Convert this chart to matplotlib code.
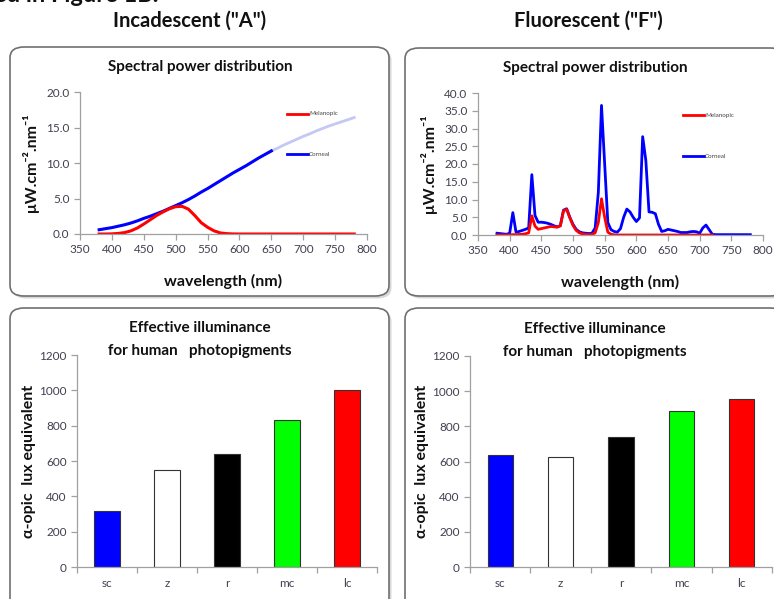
import matplotlib
matplotlib.use("Agg")
import matplotlib.pyplot as plt
from matplotlib.patches import FancyBboxPatch
import numpy as np

plt.rcParams['font.family'] = ['Lato', 'DejaVu Sans']

# ---------------- data ----------------
wl_A = [380, 390, 400, 410, 420, 430, 440, 450, 460, 470, 480, 490, 500, 510, 520,
        530, 540, 550, 560, 570, 580, 590, 600, 610, 620, 630, 640, 650, 660, 670,
        680, 690, 700, 710, 720, 730, 740, 750, 760, 770, 780]
corneal_A = [0.6, 0.75, 0.9, 1.1, 1.3, 1.55, 1.85, 2.2, 2.5, 2.85, 3.2, 3.6, 4.0, 4.4, 4.85,
             5.35, 5.9, 6.4, 6.95, 7.5, 8.05, 8.6, 9.1, 9.6, 10.15, 10.7, 11.2, 11.7, 12.1, 12.55,
             12.95, 13.35, 13.75, 14.1, 14.5, 14.85, 15.2, 15.5, 15.8, 16.1, 16.4]
melanopic_A = [0.0, 0.0, 0.02, 0.08, 0.2, 0.45, 0.85, 1.4, 2.0, 2.6, 3.1, 3.55, 3.85, 3.9, 3.5,
               2.6, 1.6, 0.95, 0.45, 0.15, 0.05, 0.01, 0.0, 0.0, 0.0, 0.0, 0.0, 0.0, 0.0, 0.0,
               0.0, 0.0, 0.0, 0.0, 0.0, 0.0, 0.0, 0.0, 0.0, 0.0, 0.0]

wl_F = [380, 385, 390, 395, 400, 405, 410, 415, 420, 425, 430, 435, 440, 445, 450, 455,
        460, 465, 470, 475, 480, 485, 490, 495, 500, 505, 510, 515, 520, 525, 530, 535,
        540, 545, 550, 555, 560, 565, 570, 575, 580, 585, 590, 595, 600, 605, 610, 615,
        620, 625, 630, 635, 640, 645, 650, 655, 660, 665, 670, 675, 680, 685, 690, 695,
        700, 705, 710, 715, 720, 725, 730, 740, 750, 760, 770, 780]
corneal_F = [0.5, 0.4, 0.3, 0.2, 0.5, 6.3, 0.8, 1.0, 1.3, 1.6, 2.0, 17.0, 5.5, 3.6, 3.6, 3.5,
             3.3, 3.0, 2.6, 2.3, 2.6, 7.0, 7.4, 5.0, 3.0, 1.6, 0.9, 0.6, 0.5, 0.4, 0.5, 2.0,
             12.0, 36.5, 20.0, 3.5, 1.5, 1.0, 0.8, 1.8, 5.0, 7.3, 6.5, 5.0, 3.8, 4.8, 27.7, 21.0,
             6.5, 6.4, 6.0, 3.0, 1.0, 1.2, 1.6, 1.4, 1.2, 1.0, 0.7, 0.7, 0.7, 0.9, 1.0, 0.9,
             0.5, 2.0, 2.8, 1.5, 0.2, 0.1, 0.1, 0.1, 0.1, 0.1, 0.1, 0.1]
wl_Fm = [380, 385, 390, 395, 400, 405, 410, 415, 420, 425, 430, 435, 440, 445, 450, 455,
         460, 465, 470, 475, 480, 485, 490, 495, 500, 505, 510, 515, 520, 525, 530, 535,
         540, 545, 550, 555, 560, 565, 570, 600, 650, 700, 720]
melanopic_F = [0.0, 0.0, 0.0, 0.0, 0.02, 0.1, 0.1, 0.15, 0.2, 0.35, 0.6, 5.4, 2.5, 1.6, 1.8, 2.0,
               2.2, 2.4, 2.3, 2.2, 2.6, 6.8, 7.2, 4.8, 2.7, 1.3, 0.6, 0.3, 0.2, 0.1, 0.15, 0.6,
               3.5, 10.2, 5.0, 0.8, 0.2, 0.05, 0.0, 0.0, 0.0, 0.0, 0.0]

categories = ['sc', 'z', 'r', 'mc', 'lc']
lux_A = [318, 550, 642, 832, 1000]
lux_F = [638, 625, 742, 885, 958]
bar_colors = ['#0000ff', '#ffffff', '#000000', '#00ff00', '#ff0000']

# ---------------- figure ----------------
W, H = 774, 599
fig = plt.figure(figsize=(W / 100, H / 100), dpi=100)
fig.patch.set_facecolor('white')

def fx(px):
    return px / W

def fy(py):
    return 1 - py / H

def add_box(x0, y0, x1, y1):
    sh = FancyBboxPatch((fx(x0) + 2.5 / W, fy(y1) - 2.5 / H), fx(x1 - x0), (y1 - y0) / H,
                        boxstyle="round,pad=0,rounding_size=0.018",
                        transform=fig.transFigure, facecolor='#d8d8d8', edgecolor='none',
                        zorder=-3)
    fig.patches.append(sh)
    bx = FancyBboxPatch((fx(x0), fy(y1)), fx(x1 - x0), (y1 - y0) / H,
                        boxstyle="round,pad=0,rounding_size=0.018",
                        transform=fig.transFigure, facecolor='white', edgecolor='#707070',
                        linewidth=1.2, zorder=-2)
    fig.patches.append(bx)

add_box(10, 47, 389, 296)
add_box(405, 48, 784, 296)
add_box(10, 308, 389, 610)
add_box(405, 308, 784, 610)

# Headings
fig.text(fx(-6), fy(2), 'ed in Figure 1B.', fontsize=17, fontweight='bold', ha='left',
         va='baseline', color='#111111')
fig.text(fx(190), fy(21), 'Incadescent ("A")', fontsize=14.5, fontweight='bold', ha='center',
         va='center', color='#111111')
fig.text(fx(588), fy(21), 'Fluorescent ("F")', fontsize=14.5, fontweight='bold', ha='center',
         va='center', color='#111111')

tick_color = '#404050'
spine_color = '#a0a0a0'

def style_axes(ax):
    for s in ['top', 'right']:
        ax.spines[s].set_visible(False)
    for s in ['left', 'bottom']:
        ax.spines[s].set_color(spine_color)
        ax.spines[s].set_linewidth(0.9)
    ax.tick_params(axis='both', colors=spine_color, labelcolor=tick_color, labelsize=8.5,
                   direction='out', length=4, width=0.9)
    ax.set_facecolor('none')

def make_ax(l, t, r, b):
    return fig.add_axes([fx(l), fy(b), fx(r - l), (b - t) / H])

# ---- spectral A ----
ax1 = make_ax(80, 92, 367, 234)
style_axes(ax1)
wl_A_arr = np.array(wl_A)
cA = np.array(corneal_A)
m1 = wl_A_arr <= 650
m2 = wl_A_arr >= 650
ax1.plot(wl_A_arr[m2], cA[m2], color='#c4c8f4', lw=2.0)
ax1.plot(wl_A_arr[m1], cA[m1], color='#0000ff', lw=2.2)
ax1.plot(wl_A, melanopic_A, color='#ff0000', lw=2.2)
ax1.set_xlim(350, 800)
ax1.set_ylim(0, 20)
ax1.set_xticks(np.arange(350, 801, 50))
ax1.set_yticks(np.arange(0, 20.1, 5))
ax1.set_yticklabels(['%.1f' % v for v in np.arange(0, 20.1, 5)])
ax1.set_xlabel('wavelength (nm)', fontsize=11.5, fontweight='bold', labelpad=13, color='#111111')
ax1.set_ylabel('μW.cm⁻².nm⁻¹', fontsize=11.5, fontweight='bold', labelpad=5, color='#111111')
fig.text(fx(200), fy(67), 'Spectral power distribution', fontsize=11, fontweight='bold',
         ha='center', va='center', color='#111111')
fig.lines.append(plt.Line2D([fx(287), fx(308)], [fy(114), fy(114)], color='#ff0000', lw=2,
                            transform=fig.transFigure))
fig.text(fx(309), fy(114), 'Melanopic', fontsize=4.5, va='center', color='#444444')
fig.lines.append(plt.Line2D([fx(287), fx(308)], [fy(154), fy(154)], color='#0000ff', lw=2,
                            transform=fig.transFigure))
fig.text(fx(309), fy(154), 'Corneal', fontsize=4.5, va='center', color='#444444')

# ---- spectral F ----
ax2 = make_ax(478, 93, 763, 235)
style_axes(ax2)
ax2.plot(wl_F, corneal_F, color='#0000ff', lw=2.0)
ax2.plot(wl_Fm, melanopic_F, color='#ff0000', lw=2.0)
ax2.set_xlim(350, 800)
ax2.set_ylim(0, 40)
ax2.set_xticks(np.arange(350, 801, 50))
ax2.set_yticks(np.arange(0, 40.1, 5))
ax2.set_yticklabels(['%.1f' % v for v in np.arange(0, 40.1, 5)])
ax2.set_xlabel('wavelength (nm)', fontsize=11.5, fontweight='bold', labelpad=13, color='#111111')
ax2.set_ylabel('μW.cm⁻².nm⁻¹', fontsize=11.5, fontweight='bold', labelpad=5, color='#111111')
fig.text(fx(595), fy(68), 'Spectral power distribution', fontsize=11, fontweight='bold',
         ha='center', va='center', color='#111111')
fig.lines.append(plt.Line2D([fx(683), fx(704)], [fy(115), fy(115)], color='#ff0000', lw=2,
                            transform=fig.transFigure))
fig.text(fx(705), fy(115), 'Melanopic', fontsize=4.5, va='center', color='#444444')
fig.lines.append(plt.Line2D([fx(683), fx(704)], [fy(156), fy(156)], color='#0000ff', lw=2,
                            transform=fig.transFigure))
fig.text(fx(705), fy(156), 'Corneal', fontsize=4.5, va='center', color='#444444')

# ---- bars ----
def bar_panel(l, t, r, b, values, title_x, title_y):
    ax = make_ax(l, t, r, b)
    style_axes(ax)
    x = np.arange(len(categories))
    ax.bar(x, values, width=0.42, color=bar_colors, edgecolor='#333333', linewidth=0.8)
    ax.set_xlim(-0.5, len(categories) - 0.5)
    ax.set_ylim(0, 1200)
    ax.set_yticks(np.arange(0, 1201, 200))
    ax.set_xticks(np.arange(-0.5, len(categories), 1.0))
    ax.set_xticklabels([])
    ax.set_xticks(x, minor=True)
    ax.set_xticklabels(categories, minor=True)
    ax.tick_params(axis='x', which='minor', length=0, pad=8, labelsize=8.5, labelcolor=tick_color)
    ax.set_ylabel('α-opic  lux equivalent', fontsize=11.5, fontweight='bold', labelpad=2,
                  color='#111111')
    fig.text(fx(title_x), fy(title_y), 'Effective illuminance', fontsize=11,
             fontweight='bold', ha='center', va='center', color='#111111')
    fig.text(fx(title_x), fy(title_y + 23), 'for human   photopigments', fontsize=11,
             fontweight='bold', ha='center', va='center', color='#111111')
    return ax

bar_panel(77, 355, 377, 567, lux_A, 200, 328)
bar_panel(470, 356, 772, 567, lux_F, 595, 329)

fig.savefig('out.png', dpi=100, facecolor='white')
